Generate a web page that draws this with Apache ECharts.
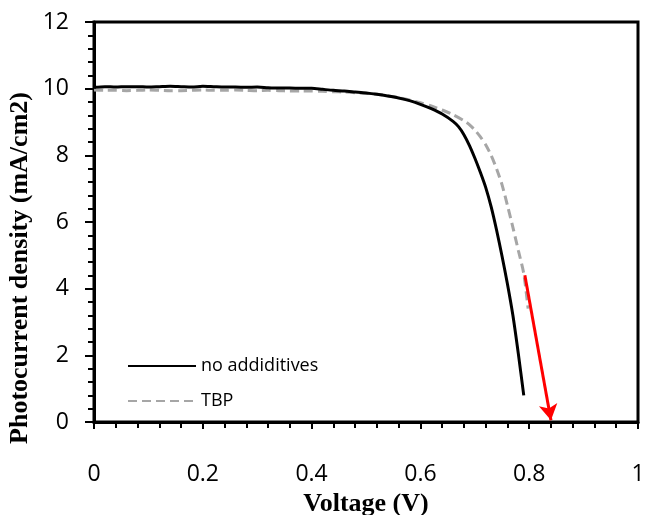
<!DOCTYPE html>
<html>
<head>
<meta charset="utf-8">
<script src="https://cdn.jsdelivr.net/npm/echarts@6/dist/echarts.min.js"></script>
<style>html,body{margin:0;padding:0;background:#fff}#c{width:645px;height:515px}</style>
</head>
<body>
<div id="c"></div>
<script>
var xTicks = [0, 0.2, 0.4, 0.6, 0.8, 1];
var yTicks = [0, 2, 4, 6, 8, 10, 12];

var noAddV = [0, 0.02, 0.04, 0.06, 0.08, 0.1, 0.12, 0.14, 0.16, 0.18, 0.2, 0.22, 0.24, 0.26, 0.28, 0.3, 0.32, 0.34, 0.36, 0.38, 0.4, 0.42, 0.44, 0.46, 0.48, 0.5, 0.52, 0.54, 0.56, 0.58, 0.6, 0.62, 0.64, 0.66, 0.67, 0.68, 0.69, 0.7, 0.71, 0.72, 0.73, 0.74, 0.75, 0.76, 0.77, 0.78, 0.79];
var noAddJ = [10.04, 10.06, 10.05, 10.06, 10.06, 10.05, 10.06, 10.07, 10.06, 10.05, 10.07, 10.06, 10.05, 10.05, 10.04, 10.05, 10.03, 10.02, 10.02, 10.01, 10.01, 9.98, 9.95, 9.93, 9.9, 9.87, 9.83, 9.78, 9.72, 9.64, 9.53, 9.4, 9.24, 9.02, 8.86, 8.62, 8.3, 7.92, 7.5, 7.04, 6.46, 5.76, 4.98, 4.14, 3.2, 2.05, 0.8];

var tbpV = [0, 0.02, 0.04, 0.06, 0.08, 0.1, 0.12, 0.14, 0.16, 0.18, 0.2, 0.22, 0.24, 0.26, 0.28, 0.3, 0.32, 0.34, 0.36, 0.38, 0.4, 0.42, 0.44, 0.46, 0.48, 0.5, 0.52, 0.54, 0.56, 0.58, 0.6, 0.62, 0.64, 0.66, 0.68, 0.69, 0.7, 0.71, 0.72, 0.73, 0.74, 0.75, 0.76, 0.77, 0.78, 0.79, 0.798];
var tbpJ = [9.96, 9.95, 9.95, 9.94, 9.95, 9.96, 9.95, 9.94, 9.94, 9.95, 9.96, 9.95, 9.95, 9.96, 9.95, 9.94, 9.95, 9.94, 9.93, 9.93, 9.93, 9.92, 9.91, 9.9, 9.88, 9.86, 9.83, 9.79, 9.73, 9.66, 9.58, 9.48, 9.36, 9.22, 9.04, 8.92, 8.76, 8.56, 8.32, 8.0, 7.6, 7.12, 6.5, 5.84, 5.15, 4.45, 3.4];

var arrowStart = [0.792, 4.4];
var arrowEnd = [0.84, 0.05];

var seriesNames = ['no addiditives', 'TBP'];

function pairs(xs, ys) { return xs.map(function (x, i) { return [x, ys[i]]; }); }

var chart = echarts.init(document.getElementById('c'), null, { renderer: 'canvas' });
var tickFont = { fontFamily: 'Open Sans', fontSize: 23, color: '#000' };
chart.setOption({
  animation: false,
  backgroundColor: '#fff',
  grid: { left: 94, right: 7, top: 22, bottom: 93, show: true, borderColor: '#000', borderWidth: 3, backgroundColor: 'transparent', containLabel: false, outerBoundsMode: 'none' },
  xAxis: {
    type: 'value', min: xTicks[0], max: xTicks[xTicks.length - 1], interval: 0.2,
    name: 'Voltage (V)', nameLocation: 'middle', nameGap: 68,
    nameTextStyle: { fontFamily: 'Liberation Serif', fontWeight: 'bold', fontSize: 26, color: '#000' },
    axisLine: { lineStyle: { color: '#000', width: 3 } },
    axisTick: { show: true, inside: false, length: 7, lineStyle: { color: '#000', width: 2 } },
    minorTick: { show: true, splitNumber: 5, length: 6, lineStyle: { color: '#000', width: 2 } },
    axisLabel: Object.assign({ margin: 41 }, tickFont),
    splitLine: { show: false }
  },
  yAxis: {
    type: 'value', min: yTicks[0], max: yTicks[yTicks.length - 1], interval: 2,
    axisLine: { show: true, lineStyle: { color: '#000', width: 3 } },
    axisTick: { show: true, inside: false, length: 9, lineStyle: { color: '#000', width: 2 } },
    minorTick: { show: true, splitNumber: 5, length: 6, lineStyle: { color: '#000', width: 2 } },
    axisLabel: Object.assign({ margin: 25 }, tickFont),
    splitLine: { show: false }
  },
  legend: {
    orient: 'vertical', left: 122, top: 352, itemWidth: 68, itemHeight: 14, itemGap: 17,
    itemStyle: { opacity: 0 },
    textStyle: { fontFamily: 'Open Sans', fontSize: 18, color: '#000' },
    data: seriesNames
  },
  graphic: [{
    type: 'text', x: 20, y: 268, rotation: Math.PI / 2,
    style: { text: 'Photocurrent density (mA/cm2)', font: 'bold 26px "Liberation Serif"', fill: '#000', align: 'center', verticalAlign: 'middle' }
  }],
  series: [
    {
      name: seriesNames[0], type: 'line', data: pairs(noAddV, noAddJ), symbol: 'none', smooth: 0.25,
      lineStyle: { color: '#000', width: 3 }, itemStyle: { color: '#000' }, z: 3
    },
    {
      name: seriesNames[1], type: 'line', data: pairs(tbpV, tbpJ), symbol: 'none', smooth: 0.25,
      lineStyle: { color: '#a6a6a6', width: 3, type: [9, 5] }, itemStyle: { color: '#a6a6a6' }, z: 2,
      markLine: {
        silent: true, symbol: ['none', 'arrow'], symbolSize: [14, 16], animation: false,
        label: { show: false },
        lineStyle: { color: '#ff0000', width: 3, type: 'solid' },
        data: [[{ coord: arrowStart }, { coord: arrowEnd }]]
      }
    }
  ]
});
</script>
</body>
</html>
